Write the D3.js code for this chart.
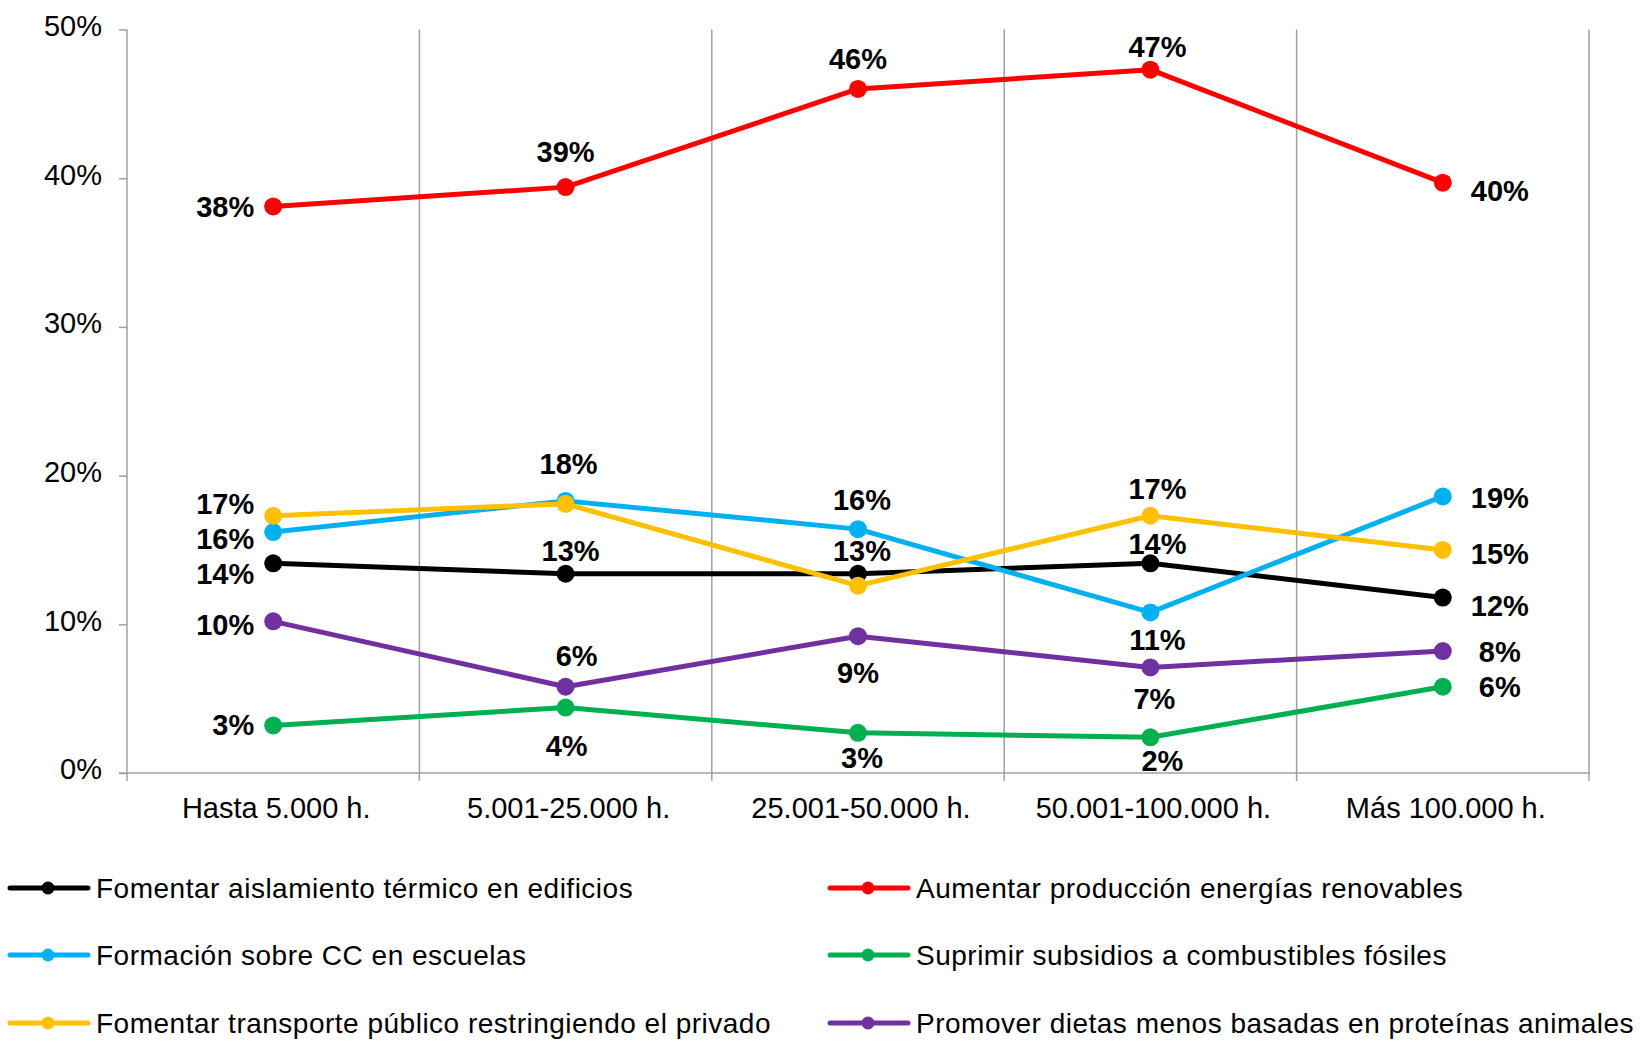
<!DOCTYPE html>
<html>
<head>
<meta charset="utf-8">
<script src="https://cdn.jsdelivr.net/npm/d3@7"></script>
<style>
  body { margin: 0; background: #fff; }
  svg { display: block; font-family: "Liberation Sans", Arial, sans-serif; }
</style>
</head>
<body>
<script>
// categories (municipality size)
var categories = ["Hasta 5.000 h.", "5.001-25.000 h.", "25.001-50.000 h.", "50.001-100.000 h.", "Más 100.000 h."];

// series values, percent
var aislamiento = [14.1, 13.4, 13.4, 14.1, 11.8];
var renovables  = [38.1, 39.4, 46.0, 47.3, 39.7];
var formacion   = [16.2, 18.3, 16.4, 10.8, 18.6];
var subsidios   = [3.2, 4.4, 2.7, 2.4, 5.8];
var transporte  = [17.3, 18.1, 12.6, 17.3, 15.0];
var dietas      = [10.2, 5.8, 9.2, 7.1, 8.2];

var seriesNames = [
  "Fomentar aislamiento térmico en edificios",
  "Aumentar producción energías renovables",
  "Formación sobre CC en escuelas",
  "Suprimir subsidios a combustibles fósiles",
  "Fomentar transporte público restringiendo el privado",
  "Promover dietas menos basadas en proteínas animales"
];

var yTicks = [0, 10, 20, 30, 40, 50];

// ---- styling / layout (not data) ----
var colors = ["#000000", "#ff0000", "#00b0f0", "#00b050", "#ffc000", "#7030a0"];

// label offsets per point: [dx, dy] ; "L" = left of first point, "R" = right of last point, null = hidden
var labelPlace = [
  [["L", 10], [5, -23], [4, -23], [7, -20], ["R", 8]],
  [["L", 0], [0, -36], [0, -30], [7, -23], ["R", 8]],
  [["L", 6], [3, -37], [4, -30], [7, 27], ["R", 1]],
  [["L", -1], [1, 38], [4, 25], [12, 23], ["R", 0]],
  [["L", -12], null, null, [7, -27], ["R", 4]],
  [["L", 3], [11, -31], [0, 36], [4, 31], ["R", 0]]
];

var width = 1644,
    height = 1043,
    plotLeft = 127,
    plotRight = 1589,
    plotTop = 29.5,
    plotBottom = 773;

var allValues = [aislamiento, renovables, formacion, subsidios, transporte, dietas];
var series = allValues.map(function(vals, i){
  return { name: seriesNames[i], color: colors[i], values: vals, place: labelPlace[i] };
});

var svg = d3.select("body").append("svg")
  .attr("width", width)
  .attr("height", height);

var x = d3.scaleBand().domain(categories).range([plotLeft, plotRight]);
var y = d3.scaleLinear().domain([0, 50]).range([plotBottom, plotTop]);

var gray = "#a0a0a0";

// vertical gridlines at band boundaries
var bounds = categories.map(function(c){ return x(c); }).concat([plotRight]);
svg.append("g").selectAll("line")
  .data(bounds.slice(1))
  .enter().append("line")
  .attr("x1", function(d){ return d; })
  .attr("x2", function(d){ return d; })
  .attr("y1", plotTop)
  .attr("y2", plotBottom)
  .style("stroke", gray)
  .style("stroke-width", 1.5);

// y axis
var yAxis = d3.axisLeft(y).tickValues(yTicks).tickSize(8).tickPadding(17)
  .tickFormat(function(d){ return d + "%"; });
var gy = svg.append("g").attr("transform", "translate(" + plotLeft + ",0)").call(yAxis);
gy.select(".domain").attr("d", "M0," + plotTop + "V" + plotBottom).style("stroke", gray).style("stroke-width", 1.5);
gy.selectAll(".tick line").style("stroke", gray).style("stroke-width", 1.5);
gy.selectAll(".tick text")
  .style("font-size", "29px")
  .style("font-family", "Liberation Sans, Arial, sans-serif")
  .style("fill", "#000")
  .attr("dy", "0.2em");

// x axis
var xAxis = d3.axisBottom(x).tickSize(0).tickPadding(24);
var gx = svg.append("g").attr("transform", "translate(0," + plotBottom + ")").call(xAxis);
gx.select(".domain").attr("d", "M" + (plotLeft - 8) + ",0H" + plotRight).style("stroke", gray).style("stroke-width", 1.5);
gx.selectAll(".tick text")
  .style("font-size", "29px")
  .style("font-family", "Liberation Sans, Arial, sans-serif")
  .style("fill", "#000")
  .attr("dx", 3);
gx.append("g").selectAll("line")
  .data(bounds)
  .enter().append("line")
  .attr("x1", function(d){ return d; })
  .attr("x2", function(d){ return d; })
  .attr("y1", 0)
  .attr("y2", 8)
  .style("stroke", gray)
  .style("stroke-width", 1.5);

var cx = function(i){ return x(categories[i]) + x.bandwidth() / 2; };

var line = d3.line()
  .x(function(d, i){ return cx(i); })
  .y(function(d){ return y(d); });

var g = svg.selectAll(".serie")
  .data(series)
  .enter().append("g")
  .attr("class", "serie");

g.append("path")
  .attr("d", function(d){ return line(d.values); })
  .style("fill", "none")
  .style("stroke", function(d){ return d.color; })
  .style("stroke-width", 5)
  .style("stroke-linejoin", "round");

g.selectAll("circle")
  .data(function(d){ return d.values.map(function(v){ return { v: v, color: d.color }; }); })
  .enter().append("circle")
  .attr("cx", function(d, i){ return cx(i); })
  .attr("cy", function(d){ return y(d.v); })
  .attr("r", 9)
  .style("fill", function(d){ return d.color; });

// data labels
g.selectAll("text.lbl")
  .data(function(d){
    return d.values.map(function(v, i){ return { v: v, i: i, p: d.place[i] }; })
      .filter(function(o){ return o.p; });
  })
  .enter().append("text")
  .attr("class", "lbl")
  .attr("x", function(d){
    if (d.p[0] === "L") return cx(d.i) - 19;
    if (d.p[0] === "R") return cx(d.i) + 57;
    return cx(d.i) + d.p[0];
  })
  .attr("y", function(d){ return y(d.v) + d.p[1]; })
  .attr("dy", "0.36em")
  .attr("text-anchor", function(d){ return d.p[0] === "L" ? "end" : "middle"; })
  .style("font-size", "29px")
  .style("font-weight", "bold")
  .style("fill", "#000")
  .text(function(d){ return Math.round(d.v) + "%"; });

// legend
var legendPos = [[10, 888], [830, 888], [10, 955], [830, 955], [10, 1023], [830, 1023]];
var lg = svg.selectAll(".leg")
  .data(series)
  .enter().append("g")
  .attr("class", "leg")
  .attr("transform", function(d, i){ return "translate(" + legendPos[i][0] + "," + legendPos[i][1] + ")"; });

lg.append("line")
  .attr("x1", 0).attr("x2", 78)
  .attr("y1", 0).attr("y2", 0)
  .style("stroke", function(d){ return d.color; })
  .style("stroke-width", 5)
  .style("stroke-linecap", "round");

lg.append("circle")
  .attr("cx", 38).attr("cy", 0).attr("r", 6.5)
  .style("fill", function(d){ return d.color; });

lg.append("text")
  .attr("x", 86)
  .attr("y", 0)
  .attr("dy", "0.36em")
  .style("font-size", "28px")
  .style("letter-spacing", "0.5px")
  .style("fill", "#000")
  .text(function(d){ return d.name; });
</script>
</body>
</html>
